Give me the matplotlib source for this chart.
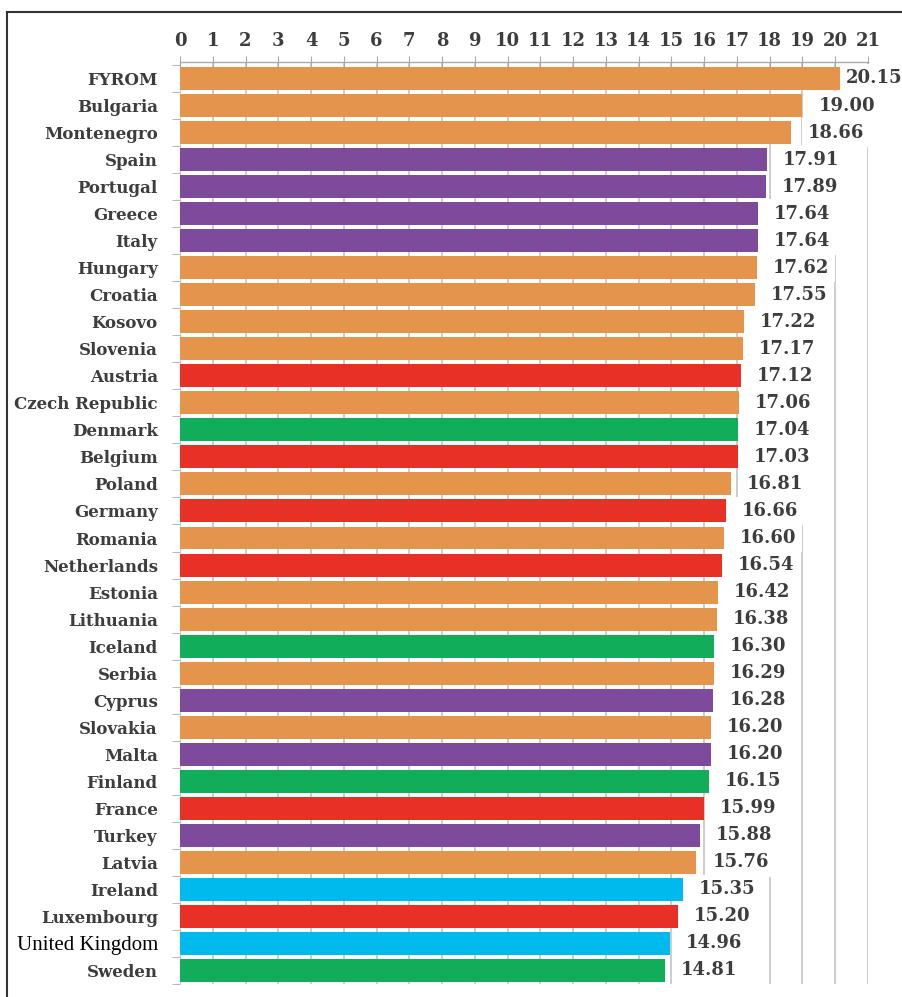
import matplotlib
matplotlib.use("Agg")
import matplotlib.pyplot as plt
from matplotlib.lines import Line2D
import numpy as np

# data
countries = ["FYROM", "Bulgaria", "Montenegro", "Spain", "Portugal", "Greece", "Italy",
             "Hungary", "Croatia", "Kosovo", "Slovenia", "Austria", "Czech Republic",
             "Denmark", "Belgium", "Poland", "Germany", "Romania", "Netherlands",
             "Estonia", "Lithuania", "Iceland", "Serbia", "Cyprus", "Slovakia", "Malta",
             "Finland", "France", "Turkey", "Latvia", "Ireland", "Luxembourg",
             "United Kingdom", "Sweden"]
values = [20.15, 19.00, 18.66, 17.91, 17.89, 17.64, 17.64, 17.62, 17.55, 17.22, 17.17,
          17.12, 17.06, 17.04, 17.03, 16.81, 16.66, 16.60, 16.54, 16.42, 16.38, 16.30,
          16.29, 16.28, 16.20, 16.20, 16.15, 15.99, 15.88, 15.76, 15.35, 15.20, 14.96,
          14.81]
groups = ["O", "O", "O", "P", "P", "P", "P", "O", "O", "O", "O", "R", "O", "G", "R",
          "O", "R", "O", "R", "O", "O", "G", "O", "P", "O", "P", "G", "R", "P", "O",
          "C", "R", "C", "G"]

palette = {"O": "#E4954B", "P": "#7D4A9C", "R": "#E93026", "G": "#12AD5B", "C": "#00BAEE"}
colors = [palette[g] for g in groups]

W, H = 903, 997
fig = plt.figure(figsize=(W / 100, H / 100), dpi=100)
ax = fig.add_axes([180 / W, 1 - 984 / H, (868 - 180) / W, (984 - 62) / H])

serif = ["DejaVu Serif"]
txt_color = "#3d3d3d"

y = np.arange(len(countries))
ax.barh(y, values, height=0.85, color=colors, zorder=2)

ax.set_xlim(0, 21)
ax.set_ylim(33.47, -0.61)

# gridlines behind the bars
ax.set_axisbelow(True)
ax.xaxis.grid(True, color="#c4c4c4", lw=1.2)

for sp in ["left", "right", "bottom"]:
    ax.spines[sp].set_visible(False)
ax.spines["top"].set_color("#aaaaaa")
ax.spines["top"].set_linewidth(1.0)

ax.xaxis.tick_top()
ax.set_xticks(range(0, 22))
ax.tick_params(axis="x", direction="inout", length=8, color="#aaaaaa", pad=5,
               labelsize=13, labelcolor=txt_color)
for lbl in ax.get_xticklabels():
    lbl.set_family(serif)
    lbl.set_fontweight("bold")

ax.set_yticks(y)
ax.set_yticklabels(countries)
ax.set_yticks(np.arange(-0.5, len(countries), 1.0), minor=True)
ax.tick_params(axis="y", which="major", length=0, pad=16, labelsize=12, labelcolor=txt_color)
ax.tick_params(axis="y", which="minor", length=6, color="#aaaaaa")
for lbl in ax.get_yticklabels():
    if lbl.get_text() == "United Kingdom":
        lbl.set_family(["Liberation Serif"])
        lbl.set_fontsize(15)
        lbl.set_color("black")
    else:
        lbl.set_family(serif)
        lbl.set_fontweight("bold")

# value labels with white boxes that hide the gridlines
for i, v in enumerate(values):
    off = 4 if v > 20 else 11.5
    ax.annotate(f"{v:.2f}", xy=(v, i), xytext=(off, 0), textcoords="offset points",
                ha="left", va="center", fontsize=13, fontweight="bold", color=txt_color,
                family=serif, zorder=3, annotation_clip=False,
                bbox=dict(boxstyle="square,pad=0.3", fc="white", ec="none"))

# frame lines (top and left only)
fig.add_artist(Line2D([7 / W, 1], [1 - 12 / H, 1 - 12 / H], transform=fig.transFigure,
                      color="#333333", lw=1.5))
fig.add_artist(Line2D([7 / W, 7 / W], [0, 1 - 12 / H], transform=fig.transFigure,
                      color="#333333", lw=1.5))

fig.savefig("out.png", dpi=100)
